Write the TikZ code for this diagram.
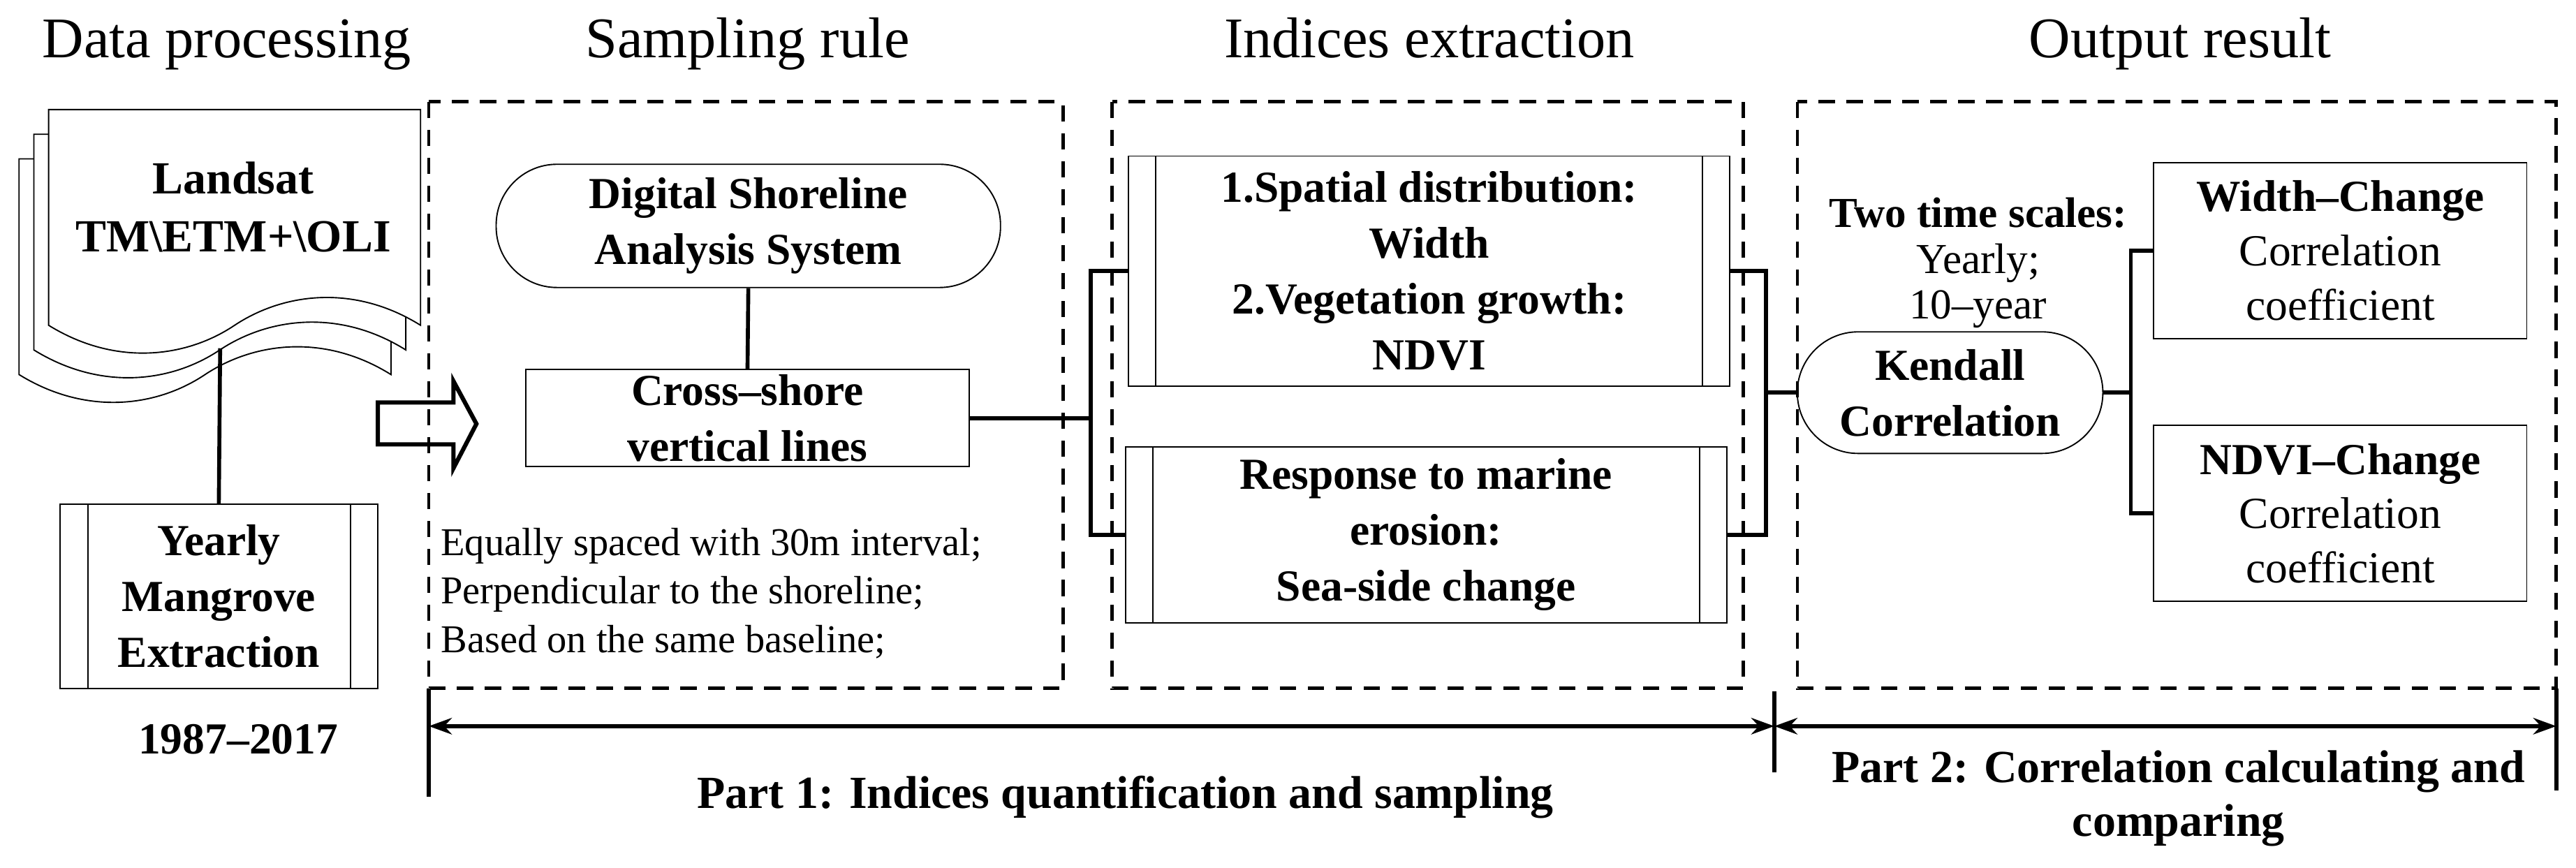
\documentclass[tikz,border=0pt]{standalone}
\usepackage{fontspec}
\setmainfont{Liberation Serif}
\usetikzlibrary{calc,arrows.meta}
\begin{document}
\begin{tikzpicture}[x=0.5pt,y=-0.5pt,
  thin line/.style={line width=0.4pt},
  conn/.style={line width=1.2pt},
  dashbox/.style={line width=1pt,dash pattern=on 5pt off 3.5pt},
  sbox/.style={draw,line width=0.4pt,inner sep=0pt,align=center,font=\fontsize{13.5}{17}\selectfont\bfseries},
  pbox/.style={sbox,rectangle},
  stad/.style={sbox,rounded corners=18.5pt},
  title/.style={font=\fontsize{17.5}{21}\selectfont},
  plain/.style={font=\fontsize{12}{14.8}\selectfont,align=left,inner sep=0pt},
  dim/.style={line width=1.2pt,{Stealth[length=7pt,width=5pt]}-{Stealth[length=7pt,width=5pt]}}]
\useasboundingbox (0,0) rectangle (1568,528);
% titles
\node[title,anchor=base] (t1) at (138,35) {Data processing};
\node[title,anchor=base] (t2) at (455,35) {Sampling rule};
\node[title,anchor=base] (t3) at (870,35) {Indices extraction};
\node[title,anchor=base] (t4) at (1327,35) {Output result};
% document stack
\foreach \dx/\dy in {-18/30,-9/15,0/0}{
  \filldraw[thin line,fill=white] (29.6+\dx,198+\dy) -- (29.6+\dx,66.7+\dy) -- (256+\dx,66.7+\dy) -- (256+\dx,198+\dy)
    .. controls (216+\dx,173+\dy) and (173+\dx,178+\dy) .. (142.8+\dx,198+\dy)
    .. controls (113+\dx,218+\dy) and (70+\dx,223+\dy) .. cycle;
}
\node[font=\fontsize{14}{17.5}\selectfont\bfseries,align=center] (land) at (142,126) {Landsat\\TM\textbackslash ETM+\textbackslash OLI};
\coordinate (docb) at (134,212);
\node[pbox,minimum width=96.8pt,minimum height=56pt] (yearly) at (133.2,363) {Yearly\\Mangrove\\Extraction};
\draw[thin line] ($(yearly.north west)+(17.6,0)$) -- ($(yearly.south west)+(17.6,0)$);
\draw[thin line] ($(yearly.north east)+(-17,0)$) -- ($(yearly.south east)+(-17,0)$);
\draw[conn] (docb) -- (yearly.north);
\node[font=\fontsize{13.5}{16}\selectfont\bfseries,anchor=base] (yr) at (145,459) {1987–2017};
% big arrow
\draw[line width=1.3pt,line join=miter] (230,245) -- (276,245) -- (276,232) -- (290,258) -- (276,285) -- (276,270.5) -- (230,270.5) -- cycle;
% dashed boxes
\draw[dashbox] (261,62) rectangle (647,419);
\draw[dashbox] (677,62) rectangle (1061,419);
\draw[dashbox] (1094,62) rectangle (1556,419);
% sampling rule
\node[stad,minimum width=153.5pt,minimum height=37.5pt] (dsas) at (455.5,137.5) {Digital Shoreline\\Analysis System};
\node[pbox,minimum width=135pt,minimum height=29.5pt] (cross) at (455,254.5) {Cross–shore\\vertical lines};
\draw[conn] (dsas.south) -- (cross.north);
\node[plain,anchor=north west] (rules) at (268,321) {Equally spaced with 30m interval;\\Perpendicular to the shoreline;\\Based on the same baseline;};
% indices
\node[pbox,minimum width=183pt,minimum height=70pt] (ind1) at (870,165) {1.Spatial distribution:\\Width\\2.Vegetation growth:\\NDVI};
\node[pbox,minimum width=183pt,minimum height=53.5pt] (ind2) at (868,325.5) {Response to marine\\erosion:\\Sea-side change};
\foreach \n in {ind1,ind2}{
  \draw[thin line] ($(\n.north west)+(17,0)$) -- ($(\n.south west)+(17,0)$);
  \draw[thin line] ($(\n.north east)+(-17,0)$) -- ($(\n.south east)+(-17,0)$);
}
\draw[conn] (cross.east) -- (664,254.5);
\draw[conn] (ind1.west) -- (664,165) -- (664,325.5) -- (ind2.west);
\draw[conn] (ind1.east) -- (1075,165) -- (1075,325.5) -- (ind2.east);
% output
\node[stad,minimum width=93pt,minimum height=37pt] (kend) at (1187,239) {Kendall\\Correlation};
\draw[conn] (1075,239) -- (kend.west);
\node[align=center,inner sep=0pt] (ts) at (1204,160) {{\fontsize{13}{15}\selectfont\bfseries Two time scales:}\\[2pt]{\fontsize{13}{15}\selectfont Yearly;}\\[2pt]{\fontsize{13}{15}\selectfont 10–year}};
\node[pbox,minimum width=113.5pt,minimum height=53.5pt,font=\fontsize{13.5}{16.5}\selectfont] (wc) at (1424.5,152.5) {\textbf{Width–Change}\\Correlation\\coefficient};
\node[pbox,minimum width=113.5pt,minimum height=53.5pt,font=\fontsize{13.5}{16.5}\selectfont] (nc) at (1424.5,312.5) {\textbf{NDVI–Change}\\Correlation\\coefficient};
\draw[conn] (kend.east) -- (1297,239);
\draw[conn] (wc.west) -- (1297,152.5) -- (1297,312.5) -- (nc.west);
% bottom dimension
\coordinate (a1) at (261,442); \coordinate (a2) at (1080,442); \coordinate (a3) at (1556,442);
\draw[conn] (261,419) -- (261,485);
\draw[conn] (1080,421) -- (1080,470);
\draw[conn] (1556,419) -- (1556,481);
\draw[dim] (a1) -- (a2);
\draw[dim] (a2) -- (a3);
\node[font=\fontsize{14}{16}\selectfont\bfseries,anchor=base] (p1) at (685,492) {Part 1: Indices quantification and sampling};
\node[font=\fontsize{14}{16.5}\selectfont\bfseries,align=center] (p2) at (1326,486) {Part 2: Correlation calculating and\\comparing};
\end{tikzpicture}
\end{document}
